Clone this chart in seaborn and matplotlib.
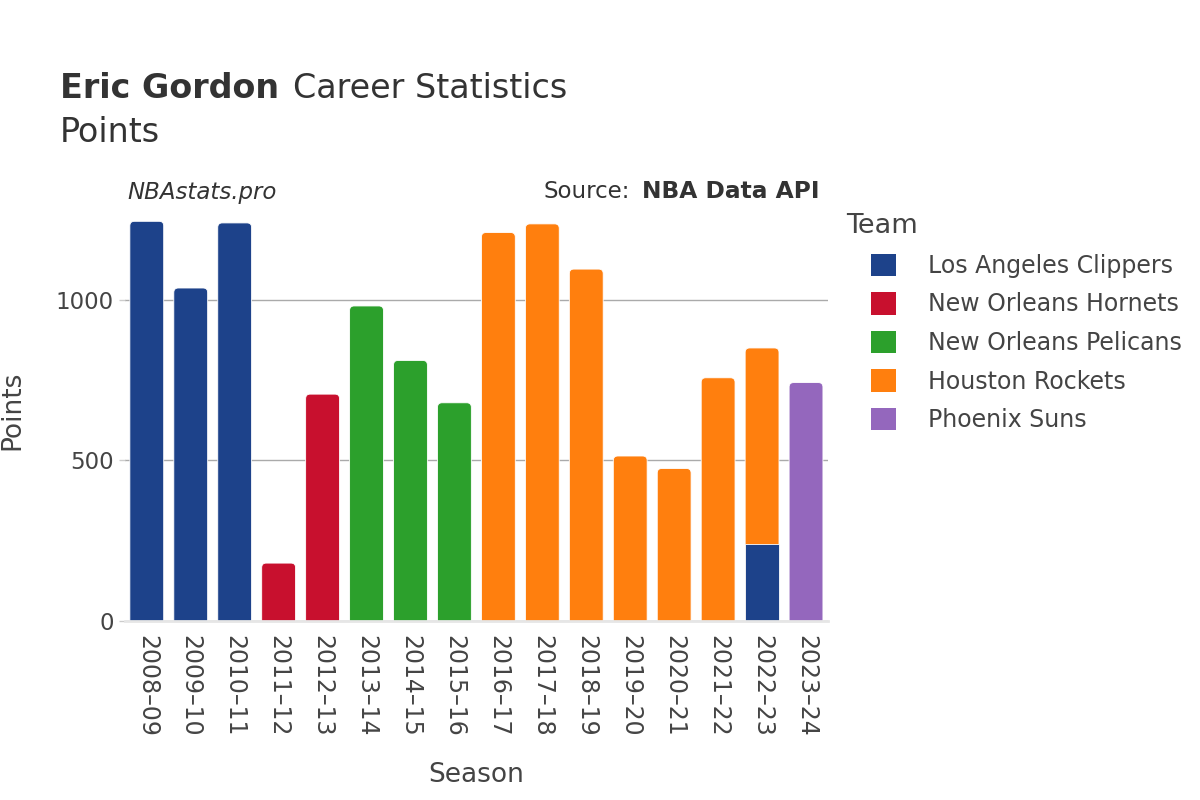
import pandas as pd
import seaborn as sns
import matplotlib.pyplot as plt
from matplotlib.patches import Patch, FancyBboxPatch

# %% Data
seasons = ['2008–09', '2009–10', '2010–11', '2011–12', '2012–13', '2013–14', '2014–15', '2015–16',
           '2016–17', '2017–18', '2018–19', '2019–20', '2020–21', '2021–22', '2022–23', '2023–24']
teams = ['Los Angeles Clippers', 'New Orleans Hornets', 'New Orleans Pelicans', 'Houston Rockets', 'Phoenix Suns']
colors = ['#1d428a', '#c8102e', '#2ca02c', '#ff7f0e', '#9467bd']

row_season = ['2008–09', '2009–10', '2010–11', '2011–12', '2012–13', '2013–14', '2014–15', '2015–16',
              '2016–17', '2017–18', '2018–19', '2019–20', '2020–21', '2021–22', '2022–23', '2022–23', '2023–24']
row_team = ['Los Angeles Clippers'] * 3 + ['New Orleans Hornets'] * 2 + ['New Orleans Pelicans'] * 3 + \
           ['Houston Rockets'] * 6 + ['Los Angeles Clippers', 'Houston Rockets', 'Phoenix Suns']
row_points = [1246, 1038, 1241, 180, 707, 982, 812, 680,
              1211, 1238, 1097, 514, 475, 758, 239, 612, 743]

df = pd.DataFrame({'season': row_season, 'team': row_team, 'points': row_points})
# stacked top of each segment (teams stacked in legend order)
df['team_rank'] = df['team'].map({t: i for i, t in enumerate(teams)})
df = df.sort_values(['season', 'team_rank'])
df['top'] = df.groupby('season')['points'].cumsum()
totals = df.groupby('season')['points'].sum().reindex(seasons).values

palette = dict(zip(teams, colors))

# %% Plot
fig = plt.figure(figsize=(12, 8), dpi=100)
ax = fig.add_axes([0.104, 0.224, 0.586, 0.525])

# upper segments drawn first, lower ones painted over them
sns.barplot(data=df, x='season', y='top', hue='team', hue_order=teams[::-1], order=seasons,
            palette=palette, dodge=False, width=0.77, saturation=1, legend=False,
            edgecolor='white', linewidth=0.6, ax=ax)

ax.set_ylim(0, 1310)
ax.set_xlim(-0.5, len(seasons) - 0.5)

# rounded top corners like the original (only the top segment of each season)
px_x = 703 / 16
px_y = 420 / 1310
r = 4.5
for p in list(ax.patches):
    x0, w, h = p.get_x(), p.get_width(), p.get_height()
    i = int(round(x0 + w / 2))
    if abs(h - totals[i]) > 0.5:
        continue
    fb = FancyBboxPatch((x0, -20), w, h + 20,
                        boxstyle=f'round,pad=0,rounding_size={r / px_x}',
                        mutation_aspect=px_x / px_y,
                        facecolor=p.get_facecolor(), edgecolor='white', linewidth=0.6, zorder=0.9)
    p.remove()
    ax.add_patch(fb)

ax.set_yticks([0, 500, 1000])
ax.grid(axis='y', color='#aaaaaa', linewidth=1, zorder=0.5)
ax.set_axisbelow(True)
for s in ['top', 'right', 'left']:
    ax.spines[s].set_visible(False)
ax.spines['bottom'].set_color('#e6e6e6')
ax.spines['bottom'].set_linewidth(2)
ax.spines['bottom'].set_zorder(5)
ax.tick_params(axis='y', labelsize=16.5, labelcolor='#444444', color='#cccccc', length=4, width=1, pad=4)
ax.tick_params(axis='x', labelsize=17, labelcolor='#444444', length=0, pad=10, labelrotation=-90)
ax.set_xlabel('Season', fontsize=19, color='#444444', labelpad=18)
ax.set_ylabel('Points', fontsize=19, color='#444444', labelpad=22)

# %% Titles and notes
fig.text(0.05, 0.89, 'Eric Gordon', fontsize=24, fontweight='bold', color='#333333', va='center')
fig.text(0.244, 0.89, 'Career Statistics', fontsize=24, color='#333333', va='center')
fig.text(0.05, 0.834, 'Points', fontsize=24, color='#333333', va='center')
fig.text(0.106, 0.76, 'NBAstats.pro', fontsize=16.5, style='italic', color='#333333', va='center')
fig.text(0.453, 0.76, 'Source:', fontsize=16.5, color='#333333', va='center')
fig.text(0.535, 0.76, 'NBA Data API', fontsize=16.8, fontweight='bold', color='#333333', va='center')

fig.text(0.705, 0.717, 'Team', fontsize=19.5, color='#444444', va='center')
handles = [Patch(facecolor=c, edgecolor='none') for c in colors]
leg = fig.legend(handles, teams, loc='upper left', bbox_to_anchor=(0.726, 0.683),
                 frameon=False, fontsize=17, borderpad=0,
                 handlelength=1.05, handleheight=1.1, handletextpad=1.35, labelspacing=0.6,
                 borderaxespad=0)
for t in leg.get_texts():
    t.set_color('#444444')

plt.savefig('out.png', dpi=100)
